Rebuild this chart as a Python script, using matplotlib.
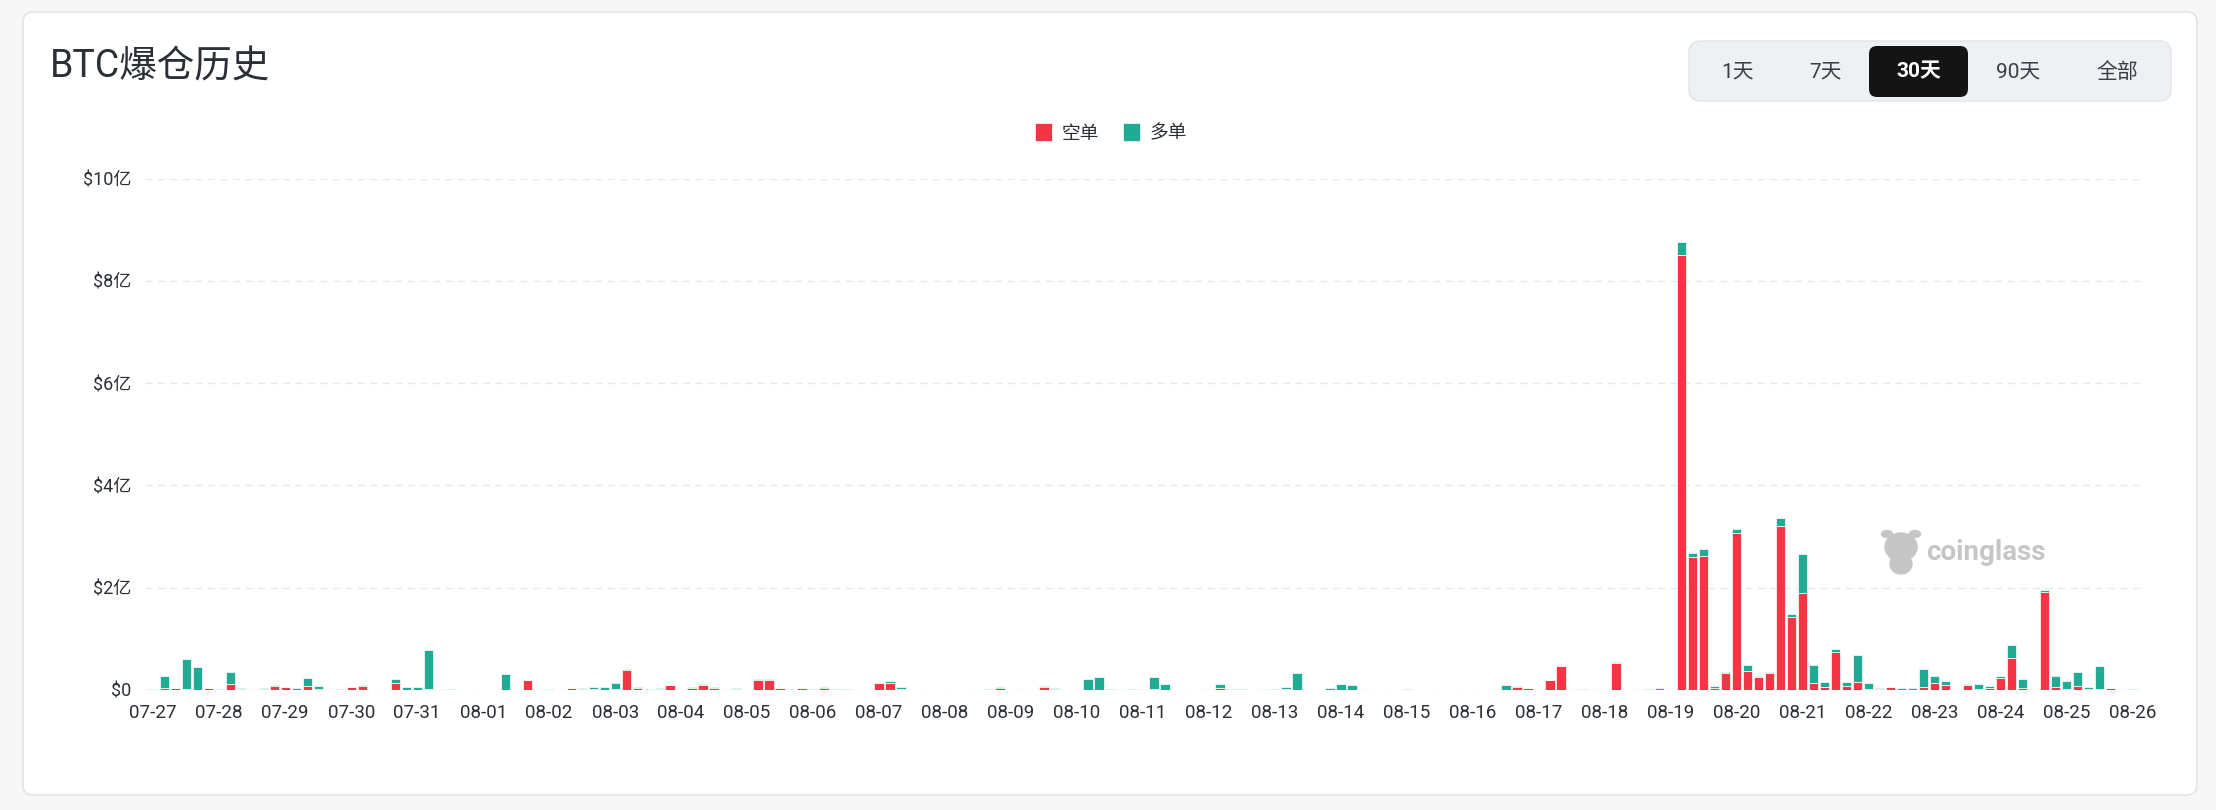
import matplotlib
matplotlib.use("Agg")
import matplotlib.pyplot as plt
from matplotlib.patches import FancyBboxPatch, Ellipse
import numpy as np

# 4-hour buckets, 07-27 00:00 .. 08-26 00:00, values in 亿 USD
short_liq = [
    0.003, 0.04, 0.035, 0.01, 0.003, 0.03,      # 07-27
    0.003, 0.12, 0.015, 0.01, 0.01, 0.08,       # 07-28
    0.05, 0.005, 0.08, 0.015, 0.02, 0.003,      # 07-29
    0.065, 0.08, 0.005, 0.025, 0.145, 0.003,    # 07-30
    0.003, 0.01, 0.015, 0.003, 0.005, 0.003,    # 07-31
    0.003, 0.005, 0.003, 0.01, 0.20, 0.01,      # 08-01
    0.003, 0.005, 0.04, 0.025, 0.01, 0.005,     # 08-02
    0.01, 0.39, 0.045, 0.003, 0.02, 0.09,       # 08-03
    0.015, 0.04, 0.105, 0.045, 0.01, 0.025,     # 08-04
    0.003, 0.19, 0.19, 0.03, 0.003, 0.04,       # 08-05
    0.003, 0.035, 0.003, 0.003, 0.003, 0.003,   # 08-06
    0.13, 0.145, 0.015, 0.005, 0.005, 0.003,    # 08-07
    0.002, 0.002, 0.002, 0.005, 0.002, 0.035,   # 08-08
    0.005, 0.025, 0.003, 0.05, 0.02, 0.002,     # 08-09
    0.002, 0.005, 0.003, 0.002, 0.002, 0.002,   # 08-10
    0.015, 0.02, 0.005, 0.005, 0.005, 0.003,    # 08-11
    0.025, 0.045, 0.002, 0.002, 0.003, 0.015,   # 08-12
    0.005, 0.025, 0.005, 0.01, 0.002, 0.003,    # 08-13
    0.005, 0.005, 0.01, 0.003, 0.005, 0.002,    # 08-14
    0.002, 0.002, 0.005, 0.002, 0.003, 0.002,   # 08-15
    0.002, 0.002, 0.02, 0.005, 0.06, 0.045,     # 08-16
    0.015, 0.19, 0.46, 0.01, 0.003, 0.01,       # 08-17
    0.01, 0.535, 0.003, 0.01, 0.003, 0.005,     # 08-18
    0.015, 8.51, 2.60, 2.63, 0.045, 0.33,       # 08-19
    3.07, 0.375, 0.25, 0.33, 3.20, 1.43,        # 08-20
    1.90, 0.13, 0.05, 0.75, 0.085, 0.15,        # 08-21
    0.015, 0.01, 0.05, 0.005, 0.003, 0.05,      # 08-22
    0.14, 0.095, 0.01, 0.10, 0.01, 0.04,        # 08-23
    0.23, 0.63, 0.035, 0.01, 1.91, 0.05,        # 08-24
    0.02, 0.07, 0.01, 0.01, 0.04, 0.01,         # 08-25
    0.002,                                      # 08-26
]
long_liq = [
    0.01, 0.23, 0.01, 0.60, 0.45, 0.003,
    0.01, 0.24, 0.015, 0.01, 0.03, 0.02,
    0.003, 0.025, 0.16, 0.07, 0.005, 0.01,
    0.003, 0.01, 0.003, 0.003, 0.075, 0.05,
    0.065, 0.78, 0.003, 0.01, 0.002, 0.002,
    0.002, 0.002, 0.31, 0.002, 0.003, 0.002,
    0.025, 0.002, 0.005, 0.005, 0.05, 0.06,
    0.135, 0.03, 0.005, 0.015, 0.01, 0.01,
    0.005, 0.01, 0.015, 0.015, 0.015, 0.005,
    0.003, 0.03, 0.02, 0.003, 0.01, 0.003,
    0.01, 0.03, 0.02, 0.01, 0.003, 0.003,
    0.015, 0.03, 0.035, 0.002, 0.002, 0.002,
    0.002, 0.002, 0.002, 0.002, 0.01, 0.03,
    0.002, 0.003, 0.003, 0.035, 0.02, 0.002,
    0.002, 0.21, 0.25, 0.01, 0.002, 0.01,
    0.003, 0.24, 0.115, 0.002, 0.002, 0.003,
    0.003, 0.08, 0.01, 0.01, 0.003, 0.01,
    0.02, 0.035, 0.325, 0.002, 0.002, 0.035,
    0.12, 0.095, 0.01, 0.003, 0.002, 0.002,
    0.008, 0.002, 0.002, 0.002, 0.003, 0.002,
    0.002, 0.002, 0.003, 0.085, 0.02, 0.003,
    0.005, 0.01, 0.003, 0.002, 0.02, 0.002,
    0.002, 0.015, 0.003, 0.002, 0.02, 0.025,
    0.002, 0.26, 0.07, 0.12, 0.035, 0.02,
    0.08, 0.115, 0.03, 0.02, 0.17, 0.05,
    0.76, 0.36, 0.105, 0.05, 0.07, 0.53,
    0.125, 0.025, 0.005, 0.03, 0.035, 0.37,
    0.13, 0.075, 0.002, 0.02, 0.11, 0.04,
    0.04, 0.25, 0.175, 0.002, 0.05, 0.22,
    0.16, 0.29, 0.05, 0.465, 0.003, 0.002,
    0.01,
]
day_labels = ["07-27", "07-28", "07-29", "07-30", "07-31", "08-01", "08-02",
              "08-03", "08-04", "08-05", "08-06", "08-07", "08-08", "08-09",
              "08-10", "08-11", "08-12", "08-13", "08-14", "08-15", "08-16",
              "08-17", "08-18", "08-19", "08-20", "08-21", "08-22", "08-23",
              "08-24", "08-25", "08-26"]
y_ticks = [0, 2, 4, 6, 8, 10]
y_labels = ["$0", "$2亿", "$4亿", "$6亿", "$8亿", "$10亿"]
periods = ["1天", "7天", "30天", "90天", "全部"]

RED = "#F23645"
TEAL = "#22AB94"
TXT = "#2b2f36"
FONTS = ["Roboto", "Noto Sans CJK SC", "DejaVu Sans"]
plt.rcParams["font.family"] = FONTS

W, H = 2216, 810
fig = plt.figure(figsize=(W / 100, H / 100), dpi=100, facecolor="#f7f7f7")

# background layer in pixel coords
bg = fig.add_axes([0, 0, 1, 1])
bg.set_xlim(0, W)
bg.set_ylim(H, 0)
bg.axis("off")
bg.add_patch(FancyBboxPatch((23, 12), 2174, 783, boxstyle="round,pad=0,rounding_size=10",
                            facecolor="white", edgecolor="#e4e4e4", linewidth=1.2))
bg.text(50, 67, "BTC爆仓历史", fontsize=27, color=TXT, va="center", ha="left")

# period switcher
bg.add_patch(FancyBboxPatch((1689, 41), 482, 60, boxstyle="round,pad=0,rounding_size=12",
                            facecolor="#eef1f4", edgecolor="#e1e4e8", linewidth=1))
bg.add_patch(FancyBboxPatch((1869, 46), 99, 51, boxstyle="round,pad=0,rounding_size=8",
                            facecolor="#141414", edgecolor="none"))
btn_x = [1738, 1825, 1919, 2018, 2117]
for lab, bx in zip(periods, btn_x):
    if lab == "30天":
        bg.text(bx, 72, lab, fontsize=15, color="white", fontweight="bold",
                ha="center", va="center")
    else:
        bg.text(bx, 72, lab, fontsize=15, color="#3a3f47", ha="center", va="center")

# watermark
wm = "#c6c6c6"
bg.add_patch(Ellipse((1901, 547), 32, 28, color=wm))
bg.add_patch(Ellipse((1901, 564), 22, 20, color=wm))
bg.add_patch(Ellipse((1887, 534), 11, 7, color=wm))
bg.add_patch(Ellipse((1915, 534), 11, 7, color=wm))
bg.text(1926, 553, "coinglass", fontsize=20, color=wm, fontweight="bold",
        ha="left", va="center")

# chart
x = np.arange(len(short_liq))
ax = fig.add_axes([145 / W, 1 - 690 / H, (2141 - 145) / W, (690 - 178.7) / H])
ax.set_zorder(2)
ax.patch.set_alpha(0)
b1 = ax.bar(x, short_liq, width=0.84, color=RED, edgecolor="white", linewidth=0.5, label="空单")
b2 = ax.bar(x, long_liq, width=0.84, bottom=short_liq, color=TEAL, edgecolor="white",
            linewidth=0.5, label="多单")

ax.set_xlim(-0.75, 180.75)
ax.set_ylim(0, 10)
ax.set_yticks(y_ticks)
ax.set_yticklabels(y_labels)
ax.set_xticks(np.arange(len(day_labels)) * 6)
ax.set_xticklabels(day_labels)
ax.tick_params(axis="y", length=0, pad=10, labelsize=13, labelcolor=TXT)
ax.tick_params(axis="x", length=0, pad=10, labelsize=13.5, labelcolor=TXT)
ax.yaxis.grid(True, linestyle=(0, (5, 4)), color="#e8e8e8", linewidth=1)
ax.set_axisbelow(True)
for s in ax.spines.values():
    s.set_visible(False)

ax.legend(handles=[b1, b2], loc="center", bbox_to_anchor=(1111 / W, 1 - 133 / H),
          bbox_transform=fig.transFigure, ncol=2, frameon=False, fontsize=13.5,
          handlelength=0.9, handleheight=1.1, handletextpad=0.5, columnspacing=1.3,
          labelcolor=TXT)

fig.savefig("out.png", dpi=100, facecolor=fig.get_facecolor())
